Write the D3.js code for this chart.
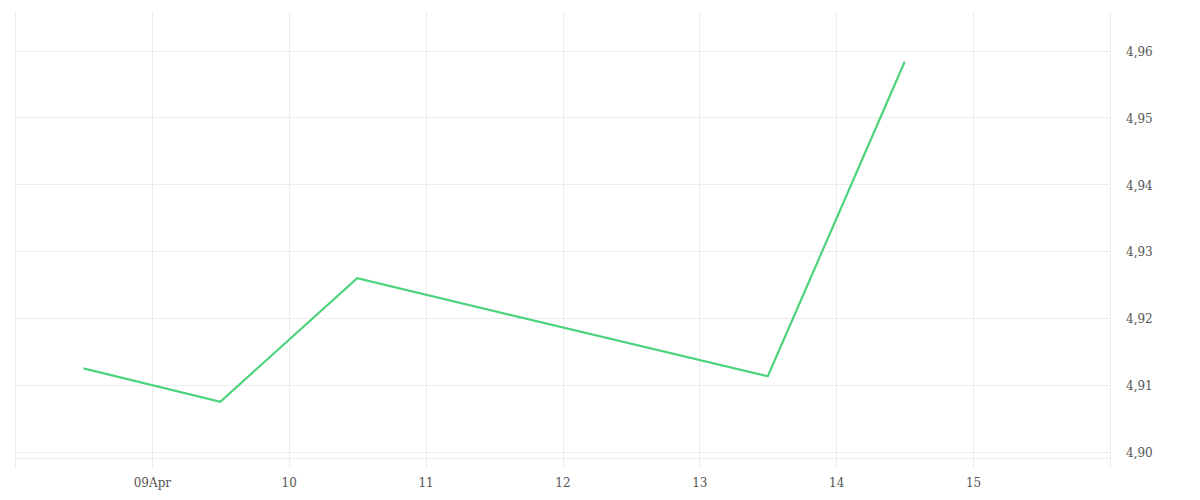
<!DOCTYPE html>
<html>
<head>
<meta charset="utf-8">
<script src="https://d3js.org/d3.v7.min.js"></script>
<style>
  body { margin: 0; background: #fff; }
  .grid line { stroke: #ececec; stroke-width: 1; }
  .axis text { font-family: "DejaVu Serif", serif; font-size: 12px; fill: #555; }
</style>
</head>
<body>
<svg width="1200" height="500"></svg>
<script>
// data (noon of each day)
var dates = ["2024-04-08T12:00", "2024-04-09T12:00", "2024-04-10T12:00", "2024-04-13T12:00", "2024-04-14T12:00"];
var values = [4.91245, 4.90745, 4.92593, 4.91126, 4.95835];
var yTicks = [4.90, 4.91, 4.92, 4.93, 4.94, 4.95, 4.96];
var xTickDays = ["2024-04-09", "2024-04-10", "2024-04-11", "2024-04-12", "2024-04-13", "2024-04-14", "2024-04-15"];

var parse = d3.timeParse("%Y-%m-%dT%H:%M");
var parseDay = d3.timeParse("%Y-%m-%d");
var data = dates.map(function (d, i) { return { t: parse(d), v: values[i] }; });

// plot box (px)
var pLeft = 15, pRight = 1110, pTop = 12, pBottom = 458;

var x = d3.scaleTime()
  .domain([parseDay("2024-04-08"), parseDay("2024-04-16")])
  .range([pLeft, pRight]);

var y = d3.scaleLinear()
  .domain([4.89903, 4.96579])
  .range([pBottom, pTop]);

var svg = d3.select("svg");

// gridlines
var grid = svg.append("g").attr("class", "grid");
grid.selectAll(".h").data(yTicks).enter().append("line")
  .attr("x1", pLeft).attr("x2", pRight)
  .attr("y1", function (d) { return Math.round(y(d)) + 0.5; })
  .attr("y2", function (d) { return Math.round(y(d)) + 0.5; });
grid.append("line")
  .attr("x1", pLeft).attr("x2", pRight)
  .attr("y1", pBottom + 0.5).attr("y2", pBottom + 0.5);
grid.selectAll(".v").data(xTickDays.map(parseDay)).enter().append("line")
  .attr("y1", pTop).attr("y2", pBottom + 10)
  .attr("x1", function (d) { return Math.round(x(d)) + 0.5; })
  .attr("x2", function (d) { return Math.round(x(d)) + 0.5; });
grid.selectAll(".b").data([pLeft, pRight]).enter().append("line")
  .attr("y1", pTop).attr("y2", pBottom + 10)
  .attr("x1", function (d) { return d + 0.5; })
  .attr("x2", function (d) { return d + 0.5; });

// x axis labels
var fmtDay = function (d) {
  return d.getDate() === 9 ? d3.timeFormat("%dApr")(d) : d3.timeFormat("%d")(d);
};
svg.append("g").attr("class", "axis")
  .attr("transform", "translate(0," + (pBottom + 10) + ")")
  .call(d3.axisBottom(x).tickValues(xTickDays.map(parseDay)).tickFormat(fmtDay).tickSize(0).tickPadding(10))
  .call(function (g) { g.select(".domain").remove(); });

// y axis labels
var fmtY = function (d) { return d3.format(".2f")(d).replace(".", ","); };
svg.append("g").attr("class", "axis")
  .attr("transform", "translate(" + pRight + ",1)")
  .call(d3.axisRight(y).tickValues(yTicks).tickFormat(fmtY).tickSize(0).tickPadding(16))
  .call(function (g) { g.select(".domain").remove(); });

// line
svg.append("path")
  .datum(data)
  .attr("fill", "none")
  .attr("stroke", "#4cd37b")
  .attr("stroke-width", 2.2)
  .attr("stroke-linejoin", "miter")
  .attr("d", d3.line()
    .x(function (d) { return x(d.t); })
    .y(function (d) { return y(d.v); }));
</script>
</body>
</html>
